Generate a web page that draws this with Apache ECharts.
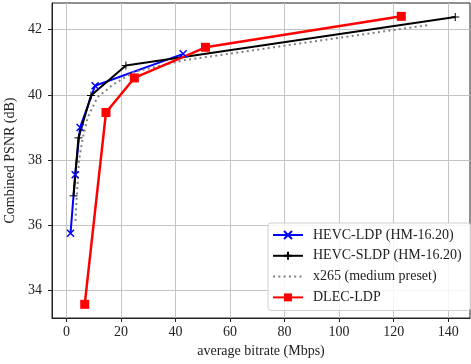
<!DOCTYPE html>
<html>
<head>
<meta charset="utf-8">
<script src="https://cdn.jsdelivr.net/npm/echarts@6/dist/echarts.min.js"></script>
<style>
html,body{margin:0;padding:0;background:#fff;}
#c{width:471px;height:364px;}
</style>
</head>
<body>
<div id="c"></div>
<script>
const seriesNames = ['HEVC-LDP (HM-16.20)', 'HEVC-SLDP (HM-16.20)', 'x265 (medium preset)', 'DLEC-LDP'];
const ldpX = [1.5, 3.2, 5.0, 10.5, 42.8];
const ldpY = [35.75, 37.55, 39.0, 40.28, 41.26];
const sldpX = [2.6, 4.4, 9.0, 21.8, 142.6];
const sldpY = [36.9, 38.68, 39.98, 40.9, 42.39];
const x265X = [3.3, 3.9, 4.6, 5.9, 7.8, 11.4, 17.5, 24.8, 42.8, 133.2];
const x265Y = [36.13, 37.05, 37.98, 38.65, 39.31, 39.93, 40.34, 40.7, 41.06, 42.15];
const dlecX = [6.7, 14.5, 24.9, 51.0, 122.8];
const dlecY = [33.57, 39.46, 40.52, 41.46, 42.41];
const xTicks = [0, 20, 40, 60, 80, 100, 120, 140];
const yTicks = [34, 36, 38, 40, 42];

const pairs = (xs, ys) => xs.map((x, i) => [x, ys[i]]);
const FONT = "'Liberation Serif', 'DejaVu Serif', serif";

const chart = echarts.init(document.getElementById('c'), null, {renderer: 'canvas'});
chart.setOption({
  animation: false,
  backgroundColor: '#fff',
  grid: {left: 52, right: 1, top: 3, bottom: 46, containLabel: false, outerBoundsMode: 'none',
         show: true, borderColor: '#222', borderWidth: 1, backgroundColor: 'transparent'},
  xAxis: {
    type: 'value', min: -5.3, max: 148,
    name: 'average bitrate (Mbps)', nameLocation: 'middle', nameGap: 25,
    nameTextStyle: {fontFamily: FONT, fontSize: 14, color: '#222'},
    axisLine: {show: true, onZero: false, lineStyle: {color: '#222', width: 1}},
    axisTick: {show: true, inside: false, length: 4, customValues: xTicks, lineStyle: {color: '#222'}},
    axisLabel: {customValues: xTicks, fontFamily: FONT, fontSize: 14, color: '#222', margin: 7},
    splitLine: {show: true, lineStyle: {color: '#c4c4c4', width: 1}}
  },
  yAxis: {
    type: 'value', min: 33.15, max: 42.82,
    name: 'Combined PSNR (dB)', nameLocation: 'middle', nameGap: 26, nameRotate: 90,
    nameTextStyle: {fontFamily: FONT, fontSize: 14, color: '#222'},
    axisLine: {show: true, onZero: false, lineStyle: {color: '#222', width: 1}},
    axisTick: {show: true, inside: false, length: 4, customValues: yTicks, lineStyle: {color: '#222'}},
    axisLabel: {customValues: yTicks, fontFamily: FONT, fontSize: 14, color: '#222', margin: 10},
    splitLine: {show: true, lineStyle: {color: '#c4c4c4', width: 1}}
  },
  legend: {
    orient: 'vertical', left: 268, top: 223,
    backgroundColor: 'rgba(255,255,255,0.85)', borderColor: '#d0d0d0', borderWidth: 1, borderRadius: 3,
    padding: [5, 9, 6, 4], itemWidth: 30, itemHeight: 10, itemGap: 6.8,
    textStyle: {fontFamily: FONT, fontSize: 14, color: '#222', padding: [0, 0, 0, 5]},
    data: [
      {name: seriesNames[0]},
      {name: seriesNames[1]},
      {name: seriesNames[2], itemStyle: {opacity: 0}},
      {name: seriesNames[3]}
    ]
  },
  series: [
    {
      name: seriesNames[0], type: 'line', data: pairs(ldpX, ldpY),
      symbol: 'path://M0,0L10,10M10,0L0,10', symbolSize: 7,
      itemStyle: {color: '#0000ff', borderColor: '#0000ff', borderWidth: 1.5},
      lineStyle: {color: '#0000ff', width: 2}, emphasis: {disabled: true}
    },
    {
      name: seriesNames[1], type: 'line', data: pairs(sldpX, sldpY),
      symbol: 'path://M5,0L5,10M0,5L10,5', symbolSize: 8,
      itemStyle: {color: '#000000', borderColor: '#000000', borderWidth: 1},
      lineStyle: {color: '#000000', width: 2}, emphasis: {disabled: true}
    },
    {
      name: seriesNames[2], type: 'line', data: pairs(x265X, x265Y),
      symbol: 'none', itemStyle: {color: '#808080'},
      lineStyle: {color: '#808080', width: 2, type: [2, 3.3]}, emphasis: {disabled: true}
    },
    {
      name: seriesNames[3], type: 'line', data: pairs(dlecX, dlecY),
      symbol: 'rect', symbolSize: 9,
      itemStyle: {color: '#ff0000'},
      lineStyle: {color: '#ff0000', width: 2.5}, emphasis: {disabled: true}
    }
  ]
});
</script>
</body>
</html>
